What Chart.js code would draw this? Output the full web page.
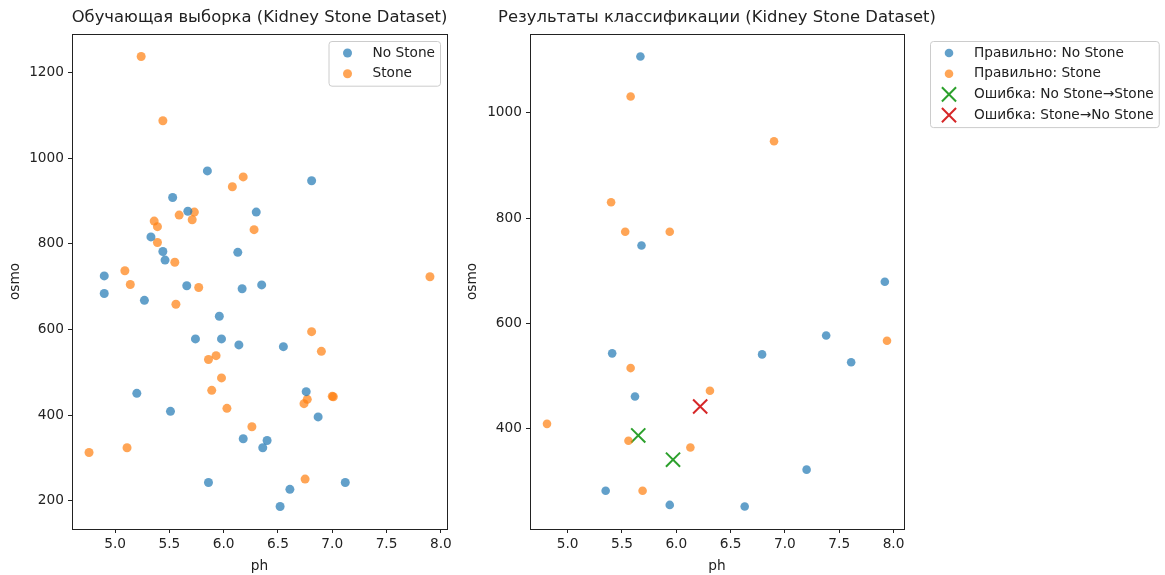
<!DOCTYPE html>
<html>
<head>
<meta charset="utf-8">
<script src="https://cdn.jsdelivr.net/npm/chart.js@4/dist/chart.umd.min.js"></script>
<style>
  body { margin: 0; background: #fff; }
  #left { position: absolute; left: 0; top: 0; }
  #right { position: absolute; left: 460px; top: 0; }
</style>
</head>
<body>
<canvas id="left" width="480" height="575"></canvas>
<canvas id="right" width="705" height="575"></canvas>
<script>
// обучающая выборка
const trainNoStonePh   = [5.85, 5.53, 5.67, 6.30, 5.33, 5.44, 6.13, 5.46, 4.90, 4.90, 5.27, 5.66, 6.17, 6.35, 5.96, 5.74, 5.98, 6.14, 5.20, 5.51, 6.18, 5.86, 6.36, 6.40, 6.81, 6.55, 6.76, 6.87, 7.12, 6.61, 6.52]
const trainNoStoneOsmo = [970, 908, 876, 874, 816, 782, 780, 762, 725, 684, 668, 702, 695, 704, 631, 578, 578, 564, 451, 409, 345, 243, 324, 341, 947, 560, 455, 396, 243, 227, 187]
const trainStonePh     = [5.24, 5.44, 6.18, 6.08, 5.73, 5.59, 5.71, 6.28, 5.36, 5.39, 5.39, 5.55, 5.09, 5.14, 5.77, 5.56, 5.86, 5.93, 5.98, 5.89, 6.03, 6.26, 4.76, 5.11, 7.90, 6.81, 6.90, 6.77, 6.74, 7.00, 7.01, 6.75]
const trainStoneOsmo   = [1237, 1087, 956, 933, 874, 867, 856, 833, 853, 840, 803, 757, 737, 705, 698, 659, 530, 539, 487, 458, 416, 373, 313, 324, 723, 595, 549, 437, 427, 444, 443, 251]

// результаты классификации
const okNoStonePh   = [5.67, 5.68, 7.92, 7.38, 6.79, 7.61, 7.20, 6.63, 5.41, 5.62, 5.35, 5.94]
const okNoStoneOsmo = [1107, 748, 679, 577, 541, 526, 322, 252, 543, 461, 282, 255]
const okStonePh     = [5.58, 5.40, 5.53, 5.94, 6.90, 7.94, 6.31, 6.13, 5.58, 4.81, 5.56, 5.69]
const okStoneOsmo   = [1031, 830, 774, 774, 946, 567, 472, 364, 515, 409, 377, 282]
const errNoToStonePh   = [5.65, 5.97]
const errNoToStoneOsmo = [387, 341]
const errStoneToNoPh   = [6.22]
const errStoneToNoOsmo = [442]

const xTickStep = 0.5
const yTickStep = 200

Chart.defaults.font.family = '"DejaVu Sans", sans-serif'
Chart.defaults.font.size = 13.7
Chart.defaults.color = '#222'

const blue = 'rgba(31,119,180,0.7)'
const orange = 'rgba(255,127,14,0.7)'
const green = '#2ca02c'
const red = '#d62728'

const toPts = (xs, ys) => xs.map((x, i) => ({x, y: ys[i]}))

// поля 5% как в matplotlib
const range = vals => {
    const lo = Math.min(...vals), hi = Math.max(...vals), m = (hi - lo) * 0.05
    return [lo - m, hi + m]
}

// рамка вокруг области графика
const spines = {
    id: 'spines',
    afterDatasetsDraw(chart) {
        const {ctx, chartArea: a} = chart
        ctx.save()
        ctx.strokeStyle = '#222'
        ctx.lineWidth = 1
        ctx.strokeRect(a.left + 0.5, a.top + 0.5, a.right - a.left, a.bottom - a.top)
        ctx.restore()
    }
}

// заголовок по центру области графика (может выходить за её края)
const mplTitle = {
    id: 'mplTitle',
    afterDraw(chart, args, opts) {
        const {ctx, chartArea: a} = chart
        ctx.save()
        ctx.font = '16.4px "DejaVu Sans"'
        ctx.fillStyle = '#222'
        ctx.textAlign = 'center'
        ctx.textBaseline = 'middle'
        ctx.fillText(opts.text, (a.left + a.right) / 2, 18)
        ctx.restore()
    }
}

// легенда в стиле matplotlib
const mplLegend = {
    id: 'mplLegend',
    afterDraw(chart, args, opts) {
        const {ctx, chartArea: a} = chart
        const items = chart.data.datasets
        ctx.save()
        ctx.font = '13.7px "DejaVu Sans"'
        const textW = Math.max(...items.map(d => ctx.measureText(d.label).width))
        const w = 44 + textW + 5
        const h = 24 + (items.length - 1) * 20.7
        const left = opts.outside ? a.right + 26 : a.right - 7 - w
        const top = a.top + 7
        ctx.beginPath()
        ctx.roundRect(left + 0.5, top + 0.5, w, h, 3)
        ctx.fillStyle = 'rgba(255,255,255,0.8)'
        ctx.fill()
        ctx.strokeStyle = '#cccccc'
        ctx.lineWidth = 1
        ctx.stroke()
        items.forEach((d, i) => {
            const y = top + 12 + i * 20.7
            const x = left + 19
            if (d.pointStyle === 'crossRot') {
                const r = d.pointRadius * 0.7071
                ctx.beginPath()
                ctx.moveTo(x - r, y - r); ctx.lineTo(x + r, y + r)
                ctx.moveTo(x + r, y - r); ctx.lineTo(x - r, y + r)
                ctx.strokeStyle = d.borderColor
                ctx.lineWidth = d.borderWidth
                ctx.stroke()
            } else {
                ctx.beginPath()
                ctx.arc(x, y, d.pointRadius, 0, Math.PI * 2)
                ctx.fillStyle = d.backgroundColor
                ctx.fill()
            }
            ctx.fillStyle = '#222'
            ctx.textBaseline = 'middle'
            ctx.fillText(d.label, left + 44, y)
        })
        ctx.restore()
    }
}

const makeOptions = (title, xr, yr, area, canvasW, yTitlePad, outside) => ({
    responsive: false,
    animation: false,
    events: [],
    layout: {padding: {left: 0, right: canvasW - area.right, top: area.top, bottom: 0}},
    plugins: {
        legend: {display: false},
        tooltip: {enabled: false},
        title: {display: false},
        mplTitle: {text: title},
        mplLegend: {outside}
    },
    scales: {
        x: {
            type: 'linear', min: xr[0], max: xr[1],
            border: {display: false},
            grid: {drawOnChartArea: false, tickLength: 4, color: '#222'},
            ticks: {stepSize: xTickStep, includeBounds: false, padding: 3, maxRotation: 0,
                callback: v => v.toFixed(1)},
            title: {display: true, text: 'ph', padding: {top: 0, bottom: 0}},
            afterFit: s => { s.height = 575 - area.bottom }
        },
        y: {
            type: 'linear', min: yr[0], max: yr[1],
            border: {display: false},
            grid: {drawOnChartArea: false, tickLength: 4, color: '#222'},
            ticks: {stepSize: yTickStep, includeBounds: false, padding: 4,
                callback: v => String(v)},
            title: {display: true, text: 'osmo', padding: {top: yTitlePad, bottom: 0}},
            afterFit: s => { s.width = area.left }
        }
    }
})

const renderTrainChart = () => {
    const xr = range([...trainNoStonePh, ...trainStonePh])
    const yr = range([...trainNoStoneOsmo, ...trainStoneOsmo])
    const data = {
        datasets: [
            {label: 'No Stone', data: toPts(trainNoStonePh, trainNoStoneOsmo),
                backgroundColor: blue, borderWidth: 0, pointRadius: 4.5},
            {label: 'Stone', data: toPts(trainStonePh, trainStoneOsmo),
                backgroundColor: orange, borderWidth: 0, pointRadius: 4.5}
        ]
    }
    const options = makeOptions('Обучающая выборка (Kidney Stone Dataset)', xr, yr,
        {left: 72, right: 447, top: 34, bottom: 529}, 480, 7, false)
    new Chart('left', {type: 'scatter', data, options, plugins: [spines, mplTitle, mplLegend]})
}

const renderResultChart = () => {
    const xr = range([...okNoStonePh, ...okStonePh, ...errNoToStonePh, ...errStoneToNoPh])
    const yr = range([...okNoStoneOsmo, ...okStoneOsmo, ...errNoToStoneOsmo, ...errStoneToNoOsmo])
    const data = {
        datasets: [
            {label: 'Правильно: No Stone', data: toPts(okNoStonePh, okNoStoneOsmo),
                backgroundColor: blue, borderWidth: 0, pointRadius: 4.3},
            {label: 'Правильно: Stone', data: toPts(okStonePh, okStoneOsmo),
                backgroundColor: orange, borderWidth: 0, pointRadius: 4.3},
            {label: 'Ошибка: No Stone→Stone', data: toPts(errNoToStonePh, errNoToStoneOsmo),
                pointStyle: 'crossRot', pointRadius: 10, borderColor: green, backgroundColor: green, borderWidth: 2},
            {label: 'Ошибка: Stone→No Stone', data: toPts(errStoneToNoPh, errStoneToNoOsmo),
                pointStyle: 'crossRot', pointRadius: 10, borderColor: red, backgroundColor: red, borderWidth: 2}
        ]
    }
    const options = makeOptions('Результаты классификации (Kidney Stone Dataset)', xr, yr,
        {left: 70, right: 444, top: 34, bottom: 529}, 705, 4, true)
    new Chart('right', {type: 'scatter', data, options, plugins: [spines, mplTitle, mplLegend]})
}

renderTrainChart()
renderResultChart()
</script>
</body>
</html>
